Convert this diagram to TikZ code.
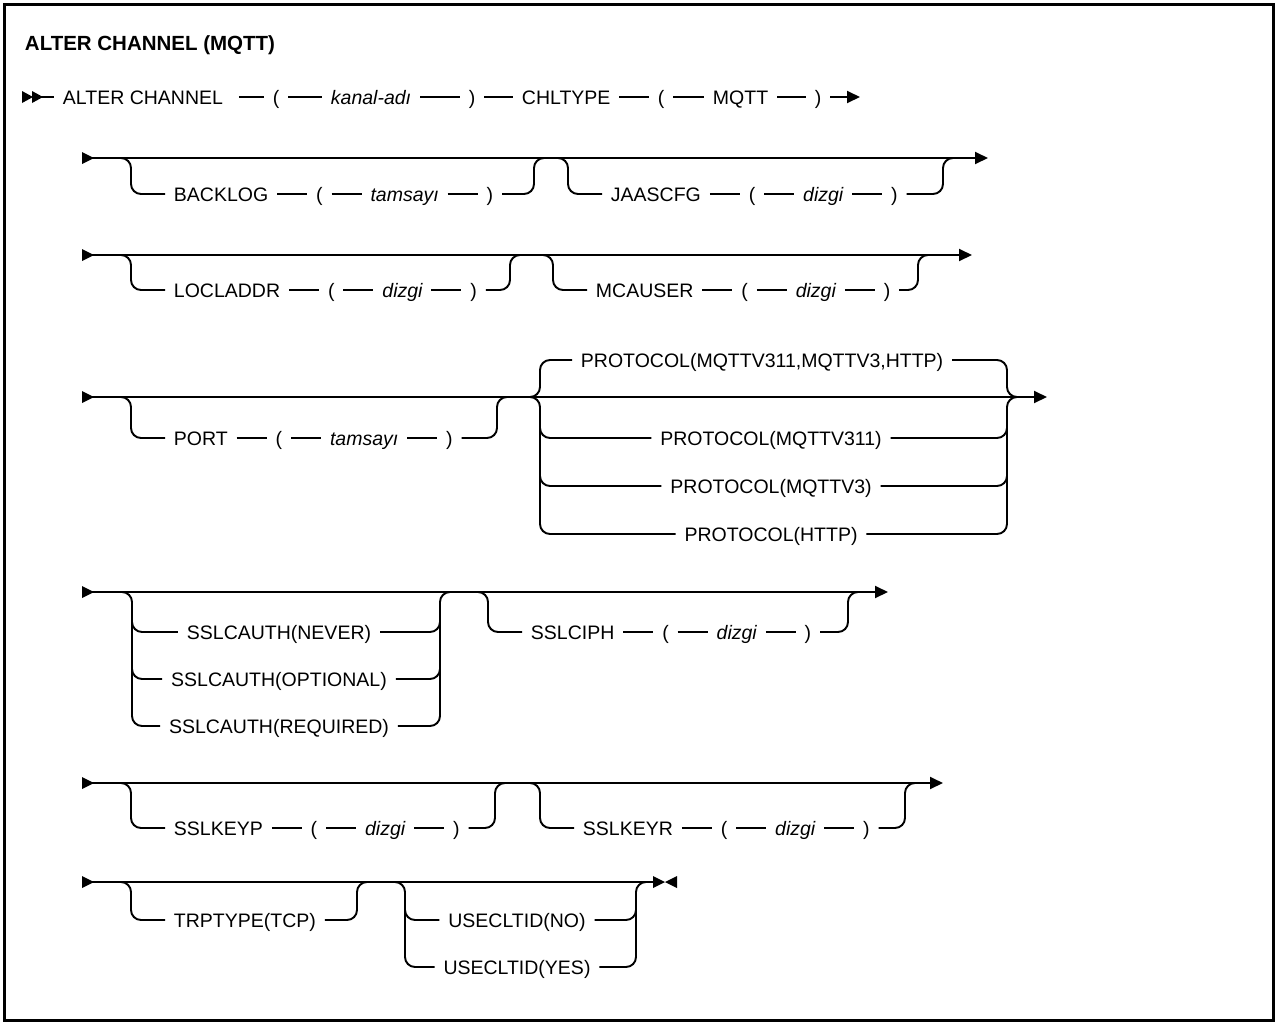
\documentclass[tikz,border=0pt]{standalone}
\usepackage{fontspec}
\setmainfont{Liberation Sans}
\usetikzlibrary{arrows.meta,positioning}
\newcommand\dfs{\fontsize{19.5}{23}\selectfont}
\begin{document}
\begin{tikzpicture}[x=1pt,y=-1pt,line width=1.9pt,
  tok/.style={inner xsep=8pt,inner ysep=0pt,text height=14pt,text depth=0pt,font=\dfs},
  var/.style={tok,font=\dfs\itshape},
  rc/.style={rounded corners=10pt},
  arr/.style={-{Triangle[length=13pt,width=12pt]}},
  frame/.style={line width=3pt}]
\useasboundingbox (0,0) rectangle (1277,1023);
\draw[frame] (4,4) rectangle (1273,1020);
\node[anchor=west,inner sep=0pt,font=\fontsize{20.5}{24}\selectfont\bfseries] (title) at (24,45) {ALTER CHANNEL (MQTT)};

% ---------- row 1
\coordinate (r1s) at (40,97);
\coordinate (r1e) at (860,97);
\fill (22,91) -- (33,97) -- (22,103) -- cycle;
\fill (32,91) -- (43,97) -- (32,103) -- cycle;
\node[tok,anchor=west] (ac) at (54,97) {ALTER CHANNEL};
\node[tok,anchor=west] (p1) at (264,97) {(};
\node[var,anchor=west] (kn) at (322,97) {kanal-adı};
\node[tok,anchor=west] (p2) at (460,97) {)};
\node[tok,anchor=west] (ct) at (513,97) {CHLTYPE};
\node[tok,anchor=west] (p3) at (649,97) {(};
\node[tok,anchor=west] (mq) at (704,97) {MQTT};
\node[tok,anchor=west] (p4) at (806,97) {)};
\draw (r1s) -- (ac.west);
\draw[shorten <=7pt] (ac) -- (p1);
\draw (p1) -- (kn);
\draw (kn) -- (p2);
\draw (p2) -- (ct);
\draw (ct) -- (p3);
\draw (p3) -- (mq);
\draw (mq) -- (p4);
\draw[arr] (p4.east) -- (r1e);

% ---------- row 2
\coordinate (r2s) at (82,158);
\coordinate (r2e) at (988,158);
\fill (82,152) -- (94,158) -- (82,164) -- cycle;
\draw[arr] (r2s) -- (r2e);
\node[tok,anchor=west] (bk) at (165,194) {BACKLOG};
\node[tok,right=30pt of bk] (bk1) {(};
\node[var,right=30pt of bk1] (bk2) {tamsayı};
\node[tok,right=30pt of bk2] (bk3) {)};
\draw (bk) -- (bk1); \draw (bk1) -- (bk2); \draw (bk2) -- (bk3);
\draw[rc] (121,158) -- (131,158) -- (131,194) -- (bk.west);
\draw[rc] (bk3.east) -- (534,194) -- (534,158) -- (544,158);
\node[tok,anchor=west] (ja) at (602,194) {JAASCFG};
\node[tok,right=30pt of ja] (ja1) {(};
\node[var,right=30pt of ja1] (ja2) {dizgi};
\node[tok,right=30pt of ja2] (ja3) {)};
\draw (ja) -- (ja1); \draw (ja1) -- (ja2); \draw (ja2) -- (ja3);
\draw[rc] (558,158) -- (568,158) -- (568,194) -- (ja.west);
\draw[rc] (ja3.east) -- (943,194) -- (943,158) -- (953,158);

% ---------- row 3
\coordinate (r3s) at (82,255);
\coordinate (r3e) at (972,255);
\fill (82,249) -- (94,255) -- (82,261) -- cycle;
\draw[arr] (r3s) -- (r3e);
\node[tok,anchor=west] (lo) at (165,290) {LOCLADDR};
\node[tok,right=30pt of lo] (lo1) {(};
\node[var,right=30pt of lo1] (lo2) {dizgi};
\node[tok,right=30pt of lo2] (lo3) {)};
\draw (lo) -- (lo1); \draw (lo1) -- (lo2); \draw (lo2) -- (lo3);
\draw[rc] (121,255) -- (131,255) -- (131,290) -- (lo.west);
\draw[rc] (lo3.east) -- (510,290) -- (510,255) -- (520,255);
\node[tok,anchor=west] (mc) at (587,290) {MCAUSER};
\node[tok,right=30pt of mc] (mc1) {(};
\node[var,right=30pt of mc1] (mc2) {dizgi};
\node[tok,right=30pt of mc2] (mc3) {)};
\draw (mc) -- (mc1); \draw (mc1) -- (mc2); \draw (mc2) -- (mc3);
\draw[rc] (543,255) -- (553,255) -- (553,290) -- (mc.west);
\draw[rc] (mc3.east) -- (918,290) -- (918,255) -- (928,255);

% ---------- row 4
\coordinate (r4s) at (82,397);
\coordinate (r4e) at (1047,397);
\fill (82,391) -- (94,397) -- (82,403) -- cycle;
\draw[arr] (r4s) -- (r4e);
\node[tok,anchor=west] (po) at (165,438) {PORT};
\node[tok,right=30pt of po] (po1) {(};
\node[var,right=30pt of po1] (po2) {tamsayı};
\node[tok,right=30pt of po2] (po3) {)};
\draw (po) -- (po1); \draw (po1) -- (po2); \draw (po2) -- (po3);
\draw[rc] (121,397) -- (131,397) -- (131,438) -- (po.west);
\draw[rc] (po3.east) -- (497,438) -- (497,397) -- (507,397);
\node[tok,anchor=west] (pd) at (572,360) {PROTOCOL(MQTTV311,MQTTV3,HTTP)};
\node[tok] (pa) at (771,438) {PROTOCOL(MQTTV311)};
\node[tok] (pb) at (771,486) {PROTOCOL(MQTTV3)};
\node[tok] (pc) at (771,534) {PROTOCOL(HTTP)};
\draw[rc] (530,397) -- (540,397) -- (540,360) -- (pd.west);
\draw[rc] (530,397) -- (540,397) -- (540,534) -- (pc.west);
\draw[rc] (540,415) -- (540,438) -- (pa.west);
\draw[rc] (540,465) -- (540,486) -- (pb.west);
\draw[rc] (pd.east) -- (1007,360) -- (1007,397) -- (1017,397);
\draw[rc] (pc.east) -- (1007,534) -- (1007,397) -- (1017,397);
\draw[rc] (pa.east) -- (1007,438) -- (1007,415);
\draw[rc] (pb.east) -- (1007,486) -- (1007,465);

% ---------- row 5
\coordinate (r5s) at (82,592);
\coordinate (r5e) at (888,592);
\fill (82,586) -- (94,592) -- (82,598) -- cycle;
\draw[arr] (r5s) -- (r5e);
\node[tok] (sa) at (279,632) {SSLCAUTH(NEVER)};
\node[tok] (sb) at (279,679) {SSLCAUTH(OPTIONAL)};
\node[tok] (sc) at (279,726) {SSLCAUTH(REQUIRED)};
\draw[rc] (122,592) -- (132,592) -- (132,726) -- (sc.west);
\draw[rc] (132,610) -- (132,632) -- (sa.west);
\draw[rc] (132,657) -- (132,679) -- (sb.west);
\draw[rc] (sc.east) -- (440,726) -- (440,592) -- (450,592);
\draw[rc] (sa.east) -- (440,632) -- (440,610);
\draw[rc] (sb.east) -- (440,679) -- (440,657);
\node[tok,anchor=west] (ci) at (522,632) {SSLCIPH};
\node[tok,right=30pt of ci] (ci1) {(};
\node[var,right=30pt of ci1] (ci2) {dizgi};
\node[tok,right=30pt of ci2] (ci3) {)};
\draw (ci) -- (ci1); \draw (ci1) -- (ci2); \draw (ci2) -- (ci3);
\draw[rc] (478,592) -- (488,592) -- (488,632) -- (ci.west);
\draw[rc] (ci3.east) -- (848,632) -- (848,592) -- (858,592);

% ---------- row 6
\coordinate (r6s) at (82,783);
\coordinate (r6e) at (943,783);
\fill (82,777) -- (94,783) -- (82,789) -- cycle;
\draw[arr] (r6s) -- (r6e);
\node[tok,anchor=west] (kp) at (165,828) {SSLKEYP};
\node[tok,right=30pt of kp] (kp1) {(};
\node[var,right=30pt of kp1] (kp2) {dizgi};
\node[tok,right=30pt of kp2] (kp3) {)};
\draw (kp) -- (kp1); \draw (kp1) -- (kp2); \draw (kp2) -- (kp3);
\draw[rc] (121,783) -- (131,783) -- (131,828) -- (kp.west);
\draw[rc] (kp3.east) -- (495,828) -- (495,783) -- (505,783);
\node[tok,anchor=west] (kr) at (574,828) {SSLKEYR};
\node[tok,right=30pt of kr] (kr1) {(};
\node[var,right=30pt of kr1] (kr2) {dizgi};
\node[tok,right=30pt of kr2] (kr3) {)};
\draw (kr) -- (kr1); \draw (kr1) -- (kr2); \draw (kr2) -- (kr3);
\draw[rc] (530,783) -- (540,783) -- (540,828) -- (kr.west);
\draw[rc] (kr3.east) -- (905,828) -- (905,783) -- (915,783);

% ---------- row 7
\coordinate (r7s) at (82,882);
\coordinate (r7e) at (654,882);
\fill (82,876) -- (94,882) -- (82,888) -- cycle;
\draw (r7s) -- (r7e);
\fill (653,876) -- (665,882) -- (653,888) -- cycle;
\fill (677,876) -- (665,882) -- (677,888) -- cycle;
\node[tok,anchor=west] (tr) at (165,920) {TRPTYPE(TCP)};
\draw[rc] (121,882) -- (131,882) -- (131,920) -- (tr.west);
\draw[rc] (tr.east) -- (357,920) -- (357,882) -- (367,882);
\node[tok] (ua) at (517,920) {USECLTID(NO)};
\node[tok] (ub) at (517,967) {USECLTID(YES)};
\draw[rc] (395,882) -- (405,882) -- (405,967) -- (ub.west);
\draw[rc] (405,900) -- (405,920) -- (ua.west);
\draw[rc] (ub.east) -- (636,967) -- (636,882) -- (646,882);
\draw[rc] (ua.east) -- (636,920) -- (636,900);
\end{tikzpicture}
\end{document}
